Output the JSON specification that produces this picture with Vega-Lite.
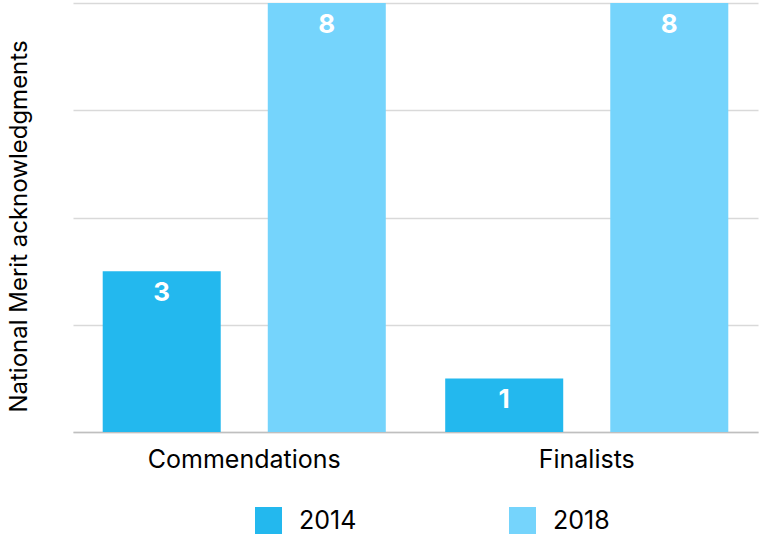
{
  "$schema": "https://vega.github.io/schema/vega-lite/v6.json",
  "width": 685,
  "height": 429,
  "autosize": {"type": "none"},
  "padding": {"left": 73, "top": 3, "right": 2, "bottom": 102},
  "background": "white",
  "config": {
    "view": {"stroke": null},
    "font": "Inter"
  },
  "data": {
    "values": [
      {"category": "Commendations", "year": "2014", "value": 3},
      {"category": "Commendations", "year": "2018", "value": 8},
      {"category": "Finalists", "year": "2014", "value": 1},
      {"category": "Finalists", "year": "2018", "value": 8}
    ]
  },
  "encoding": {
    "x": {
      "field": "category",
      "type": "nominal",
      "scale": {"paddingInner": 0, "paddingOuter": 0},
      "axis": {
        "title": null,
        "labelAngle": 0,
        "labelFont": "Inter",
        "labelFontSize": 25,
        "labelColor": "#000000",
        "labelPadding": 15,
        "labelLimit": 400,
        "ticks": false,
        "domain": true,
        "domainColor": "#bfbfbf",
        "domainWidth": 1.5
      }
    },
    "xOffset": {
      "field": "year",
      "type": "nominal",
      "scale": {"paddingInner": 0.285, "paddingOuter": 0.18}
    },
    "y": {
      "field": "value",
      "type": "quantitative",
      "scale": {"domain": [0, 8], "nice": false},
      "axis": {
        "title": "National Merit acknowledgments",
        "titleFont": "Inter",
        "titleFontSize": 24,
        "titleFontWeight": "normal",
        "titleColor": "#000000",
        "titlePadding": 42,
        "titleY": 223,
        "labels": false,
        "ticks": false,
        "domain": false,
        "values": [0, 2, 4, 6, 8],
        "grid": true,
        "gridColor": "#d9d9d9",
        "gridWidth": 1.5
      }
    }
  },
  "layer": [
    {
      "mark": {"type": "bar"},
      "encoding": {
        "color": {
          "field": "year",
          "type": "nominal",
          "scale": {"domain": ["2014", "2018"], "range": ["#23b8ee", "#75d4fc"]},
          "legend": {
            "title": null,
            "orient": "none",
            "legendX": 182,
            "legendY": 504,
            "direction": "horizontal",
            "columns": 2,
            "columnPadding": 152,
            "symbolType": "square",
            "symbolSize": 729,
            "symbolStrokeWidth": 0,
            "symbolOpacity": 1,
            "labelFont": "Inter",
            "labelFontSize": 25,
            "labelColor": "#000000",
            "labelOffset": 17
          }
        }
      }
    },
    {
      "mark": {
        "type": "text",
        "baseline": "top",
        "dy": 9,
        "color": "white",
        "font": "Inter",
        "fontSize": 26,
        "fontWeight": "bold"
      },
      "encoding": {
        "text": {"field": "value", "type": "quantitative"}
      }
    }
  ]
}
